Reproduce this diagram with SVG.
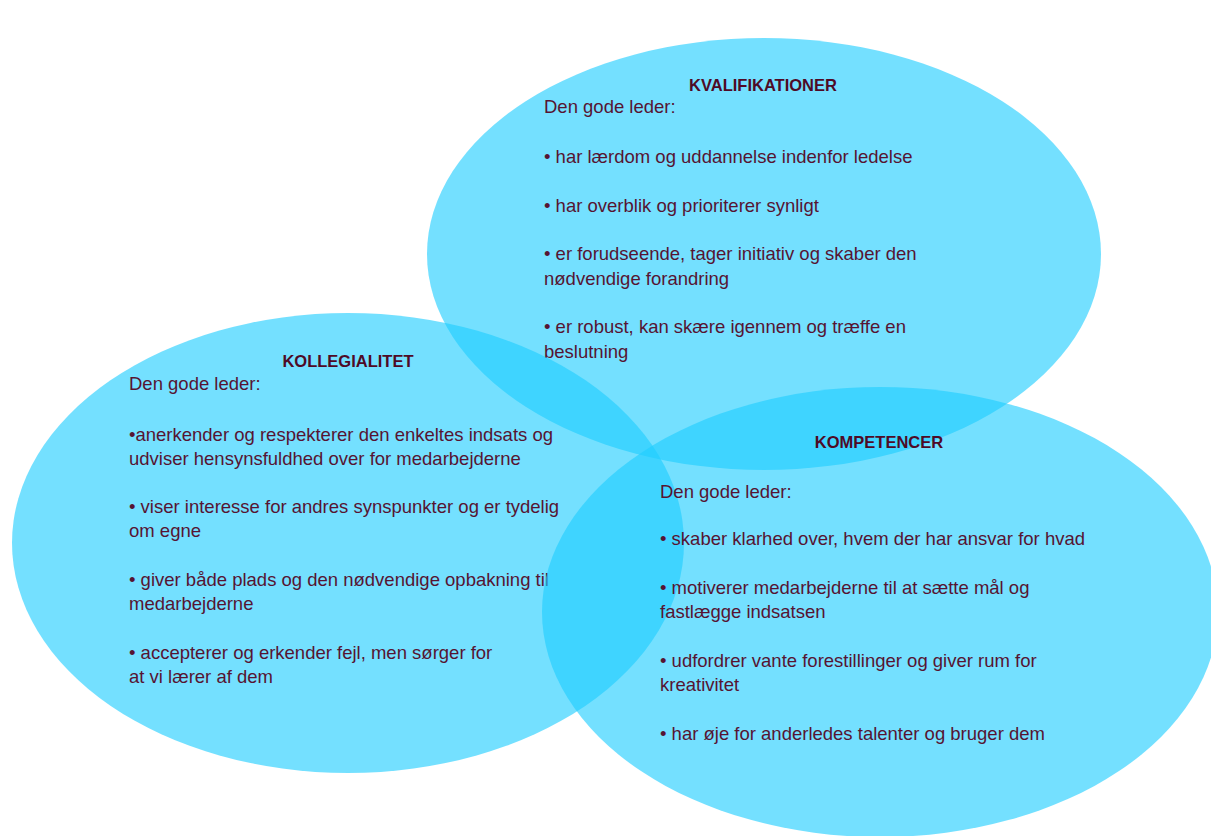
<svg xmlns="http://www.w3.org/2000/svg" width="1211" height="836" viewBox="0 0 1211 836">
<style>
.c{fill:rgb(30,205,255);fill-opacity:0.62;stroke:none}
text{font-family:"Liberation Sans",Arial,sans-serif;fill:#561432}
.t{font-size:16.5px;font-weight:bold;text-anchor:middle;fill:#4e0a26}
.b{font-size:18.5px}
</style>
<rect width="1211" height="836" fill="#ffffff"/>
<g id="kvalifikationer">
<ellipse class="c" cx="764" cy="254" rx="337" ry="216"/>
<text class="t" x="763" y="91">KVALIFIKATIONER</text>
<text class="b" x="544" y="113">Den gode leder:</text>
<text class="b" x="544" y="163">• har lærdom og uddannelse indenfor ledelse</text>
<text class="b" x="544" y="212">• har overblik og prioriterer synligt</text>
<text class="b" x="544" y="260">• er forudseende, tager initiativ og skaber den</text>
<text class="b" x="544" y="285">nødvendige forandring</text>
<text class="b" x="544" y="333">• er robust, kan skære igennem og træffe en</text>
<text class="b" x="544" y="358">beslutning</text>
</g>
<g id="kollegialitet">
<ellipse class="c" cx="348" cy="543" rx="336" ry="230"/>
<text class="t" x="348" y="367">KOLLEGIALITET</text>
<text class="b" x="129" y="390">Den gode leder:</text>
<text class="b" x="129" y="441">•anerkender og respekterer den enkeltes indsats og</text>
<text class="b" x="129" y="465">udviser hensynsfuldhed over for medarbejderne</text>
<text class="b" x="129" y="513">• viser interesse for andres synspunkter og er tydelig</text>
<text class="b" x="129" y="537">om egne</text>
<text class="b" x="129" y="586">• giver både plads og den nødvendige opbakning til</text>
<text class="b" x="129" y="610">medarbejderne</text>
<text class="b" x="129" y="659">• accepterer og erkender fejl, men sørger for</text>
<text class="b" x="129" y="683">at vi lærer af dem</text>
</g>
<g id="kompetencer">
<ellipse class="c" cx="880" cy="612" rx="338" ry="225"/>
<text class="t" x="879" y="448">KOMPETENCER</text>
<text class="b" x="660" y="498">Den gode leder:</text>
<text class="b" x="660" y="545">• skaber klarhed over, hvem der har ansvar for hvad</text>
<text class="b" x="660" y="594">• motiverer medarbejderne til at sætte mål og</text>
<text class="b" x="660" y="618">fastlægge indsatsen</text>
<text class="b" x="660" y="667">• udfordrer vante forestillinger og giver rum for</text>
<text class="b" x="660" y="691">kreativitet</text>
<text class="b" x="660" y="740">• har øje for anderledes talenter og bruger dem</text>
</g>
<g id="connectors"/>
</svg>
